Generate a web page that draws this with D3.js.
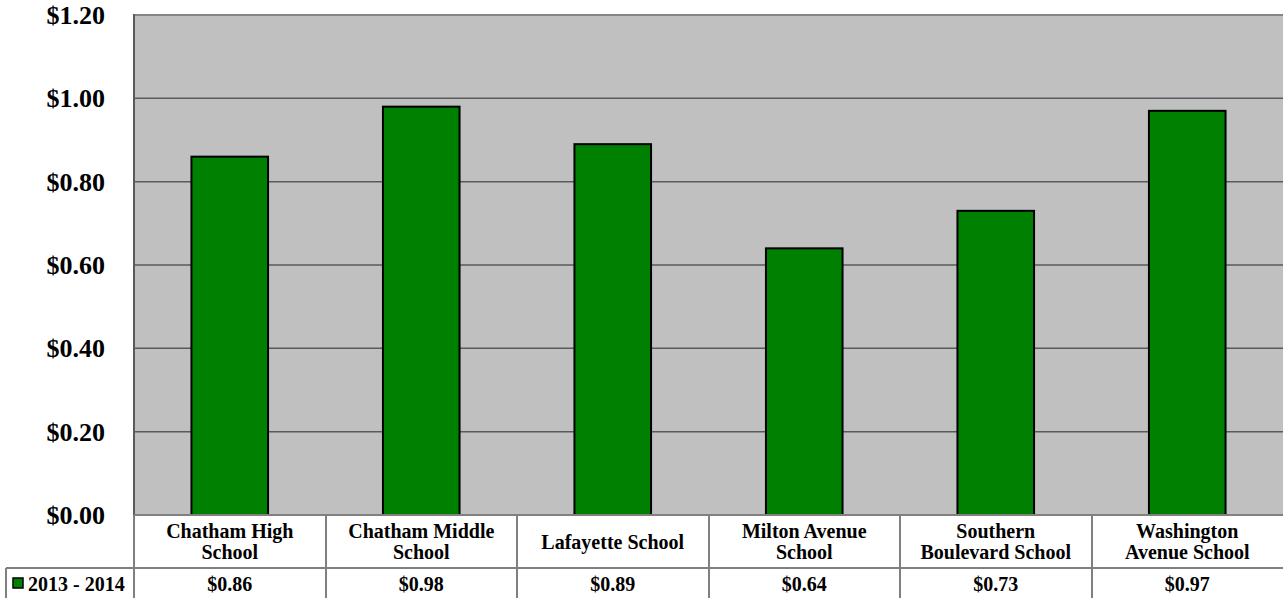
<!DOCTYPE html>
<html>
<head>
<meta charset="utf-8">
<script src="https://cdn.jsdelivr.net/npm/d3@7"></script>
<style>
  body { margin: 0; background: #fff; }
  text { font-family: "Liberation Serif", "Times New Roman", serif; font-weight: bold; fill: #000; }
</style>
</head>
<body>
<div id="chart"></div>
<script>
var categories = ["Chatham High School", "Chatham Middle School", "Lafayette School",
                  "Milton Avenue School", "Southern Boulevard School", "Washington Avenue School"];
var values = [0.86, 0.98, 0.89, 0.64, 0.73, 0.97];
var seriesName = "2013 - 2014";
var yTicks = [0, 0.2, 0.4, 0.6, 0.8, 1.0, 1.2];

var W = 1283, H = 598;
var plot = {left: 134, top: 15, right: 1283, bottom: 515};
var tableRow = 568;

var svg = d3.select("#chart").append("svg")
    .attr("width", W)
    .attr("height", H);

var x = d3.scaleBand()
    .domain(categories)
    .range([plot.left, plot.right])
    .paddingInner(0.6)
    .paddingOuter(0.3);

var y = d3.scaleLinear()
    .domain([0, 1.2])
    .range([plot.bottom, plot.top]);

var fmt = function(v) { return "$" + d3.format(".2f")(v); };

// plot background
svg.append("rect")
    .attr("x", plot.left).attr("y", plot.top)
    .attr("width", plot.right - plot.left).attr("height", plot.bottom - plot.top)
    .style("fill", "#c0c0c0");

// gridlines
svg.append("g").selectAll("line")
    .data(yTicks.filter(function(d) { return d > 0 && d < 1.2; }))
    .enter().append("line")
    .attr("x1", plot.left).attr("x2", plot.right)
    .attr("y1", function(d) { return y(d); })
    .attr("y2", function(d) { return y(d); })
    .style("stroke", "#5a5a5a").style("stroke-width", 1.5);

svg.append("line")
    .attr("x1", plot.left).attr("x2", plot.right)
    .attr("y1", y(1.2)).attr("y2", y(1.2))
    .style("stroke", "#858585").style("stroke-width", 2);

svg.append("line")
    .attr("x1", plot.left).attr("x2", plot.left)
    .attr("y1", y(1.2) - 1).attr("y2", plot.bottom)
    .style("stroke", "#5a5a5a").style("stroke-width", 2);

// y tick labels
svg.append("g").selectAll("text")
    .data(yTicks)
    .enter().append("text")
    .attr("x", 105)
    .attr("y", function(d) { return y(d); })
    .attr("dy", "0.35em")
    .attr("text-anchor", "end")
    .style("font-size", "26px")
    .text(fmt);

// bars
svg.append("g").selectAll("rect")
    .data(values)
    .enter().append("rect")
    .attr("x", function(d, i) { return x(categories[i]); })
    .attr("y", function(d) { return y(d); })
    .attr("width", x.bandwidth())
    .attr("height", function(d) { return y(0) - y(d); })
    .style("fill", "#008000")
    .style("stroke", "#000")
    .style("stroke-width", 2);

// data table
var step = x.step();
var cellLeft = function(i) { return plot.left + step * i; };
var tg = svg.append("g").style("stroke", "#808080").style("stroke-width", 2);

tg.append("line").attr("x1", plot.left).attr("x2", plot.right)
    .attr("y1", plot.bottom).attr("y2", plot.bottom);
tg.append("line").attr("x1", 6).attr("x2", plot.right)
    .attr("y1", tableRow).attr("y2", tableRow);
tg.append("line").attr("x1", 6).attr("x2", 6)
    .attr("y1", tableRow).attr("y2", H);
tg.selectAll(".vsep")
    .data(d3.range(categories.length))
    .enter().append("line")
    .attr("class", "vsep")
    .attr("x1", function(i) { return Math.round(cellLeft(i)); })
    .attr("x2", function(i) { return Math.round(cellLeft(i)); })
    .attr("y1", plot.bottom).attr("y2", H);

// category labels, wrapped to the cell width
var labels = svg.append("g").selectAll("text")
    .data(categories)
    .enter().append("text")
    .attr("text-anchor", "middle")
    .style("font-size", "20px");

labels.each(function(name, i) {
  var t = d3.select(this);
  var words = name.split(" "), lines = [], cur = [];
  words.forEach(function(w) {
    cur.push(w);
    t.text(cur.join(" "));
    if (this.getComputedTextLength() > 155 && cur.length > 1) {
      cur.pop();
      lines.push(cur.join(" "));
      cur = [w];
    }
  }, this);
  lines.push(cur.join(" "));
  t.text(null);
  var cx = cellLeft(i) + step / 2;
  var mid = (plot.bottom + tableRow) / 2;
  var lh = 21;
  lines.forEach(function(l, k) {
    t.append("tspan")
      .attr("x", cx)
      .attr("y", mid + (k - (lines.length - 1) / 2) * lh)
      .attr("dy", "0.35em")
      .text(l);
  });
});

// value row
svg.append("g").selectAll("text")
    .data(values)
    .enter().append("text")
    .attr("x", function(d, i) { return cellLeft(i) + step / 2; })
    .attr("y", (tableRow + H) / 2 + 1)
    .attr("dy", "0.35em")
    .attr("text-anchor", "middle")
    .style("font-size", "20px")
    .text(fmt);

// legend key
svg.append("rect")
    .attr("x", 13).attr("y", 578)
    .attr("width", 10).attr("height", 10)
    .style("fill", "#008000").style("stroke", "#000").style("stroke-width", 1.5);

svg.append("text")
    .attr("x", 28)
    .attr("y", (tableRow + H) / 2 + 1)
    .attr("dy", "0.35em")
    .style("font-size", "20px")
    .text(seriesName);
</script>
</body>
</html>
